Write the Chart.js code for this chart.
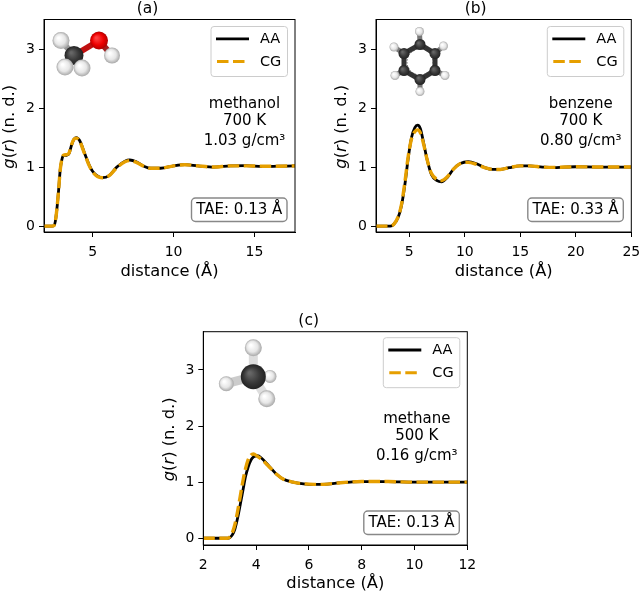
<!DOCTYPE html>
<html>
<head>
<meta charset="utf-8">
<script src="https://cdn.jsdelivr.net/npm/chart.js@4/dist/chart.umd.min.js"></script>
<style>
    html, body { margin: 0; padding: 0; background: #fff; width: 640px; height: 592px; overflow: hidden; position: relative; }
    canvas { position: absolute; filter: blur(0.4px); }
</style>
</head>
<body>
<canvas id="chartA" style="left:0;top:0"></canvas>
<canvas id="chartB" style="left:320px;top:0"></canvas>
<canvas id="chartC" style="left:150px;top:312px"></canvas>
<script>
// values
const methanolR = [2, 2.5, 2.62, 2.7, 2.8, 2.9, 3, 3.1, 3.2, 3.4, 3.55, 3.7, 3.85, 4, 4.2, 4.5, 4.8, 5, 5.3, 5.6, 6, 6.5, 7, 7.3, 7.7, 8.2, 8.6, 9.2, 10, 10.7, 11.5, 12.5, 13.5, 14.5, 15.5, 16.5, 17.5]
const methanolAA = [0, 0, 0.01, 0.08, 0.3, 0.6, 0.95, 1.12, 1.19, 1.2, 1.23, 1.37, 1.47, 1.5, 1.45, 1.24, 1.03, 0.93, 0.85, 0.82, 0.85, 1, 1.1, 1.12, 1.09, 1.01, 0.98, 0.98, 1.02, 1.04, 1.02, 1, 1.02, 1.025, 1.01, 1.015, 1.02]
const methanolCG = [0, 0, 0.01, 0.08, 0.3, 0.6, 0.95, 1.13, 1.2, 1.21, 1.24, 1.38, 1.47, 1.49, 1.44, 1.23, 1.02, 0.92, 0.84, 0.82, 0.85, 0.99, 1.09, 1.11, 1.08, 1.01, 0.98, 0.98, 1.02, 1.04, 1.02, 1, 1.02, 1.02, 1.015, 1.015, 1.02]

const benzeneR = [2, 3.3, 3.6, 4, 4.3, 4.6, 4.9, 5.2, 5.5, 5.75, 6, 6.3, 6.6, 7, 7.5, 7.9, 8.4, 9, 9.6, 10.3, 11, 11.8, 12.5, 13.2, 14, 15, 15.8, 17, 18, 19, 20, 22, 25]
const benzeneAA = [0, 0, 0.03, 0.15, 0.35, 0.7, 1.15, 1.5, 1.67, 1.71, 1.65, 1.4, 1.13, 0.87, 0.77, 0.75, 0.82, 0.97, 1.06, 1.09, 1.06, 0.99, 0.96, 0.96, 0.99, 1.02, 1.02, 1, 0.99, 1, 1.005, 1, 1]
const benzeneCG = [0, 0, 0.03, 0.16, 0.37, 0.74, 1.18, 1.48, 1.6, 1.63, 1.58, 1.38, 1.13, 0.89, 0.79, 0.77, 0.83, 0.97, 1.06, 1.08, 1.05, 0.99, 0.96, 0.96, 0.99, 1.02, 1.02, 1, 0.995, 1, 1.005, 1, 1]

const methaneR = [2, 2.9, 3, 3.1, 3.2, 3.3, 3.4, 3.5, 3.6, 3.7, 3.8, 3.9, 4.05, 4.2, 4.5, 4.8, 5, 5.4, 5.8, 6.2, 6.7, 7.2, 8, 9, 10, 12]
const methaneAA = [0, 0, 0.01, 0.06, 0.17, 0.36, 0.6, 0.85, 1.1, 1.27, 1.39, 1.45, 1.47, 1.43, 1.28, 1.13, 1.06, 1, 0.97, 0.96, 0.965, 0.99, 1.01, 1.01, 1, 1]
const methaneCG = [0, 0, 0.02, 0.1, 0.25, 0.48, 0.75, 1.02, 1.24, 1.4, 1.48, 1.5, 1.46, 1.41, 1.27, 1.13, 1.06, 1, 0.97, 0.96, 0.965, 0.99, 1.01, 1.01, 1, 1]

const seriesNames = ['AA', 'CG']
const xTitle = 'distance (Å)'
const fontName = '"DejaVu Sans"'

// molecule icons, [x, y, radius, kind] from the plot's top left corner
const methanolAtoms = [[17, 21, 8.5, 'H'], [30, 36, 9.5, 'C'], [68, 36, 8, 'H'], [55, 21, 9, 'O'], [21, 47.5, 8.5, 'H'], [38, 48.5, 8.5, 'H']]
const methanolBonds = [[0, 1, '#999'], [1, 3, '#c01010'], [3, 2, '#a02020'], [1, 4, '#888'], [1, 5, '#888']]
const benzeneAtoms = [[44, 25, 5.5, 'C'], [59, 34, 5.5, 'C'], [59, 51, 5.5, 'C'], [44, 60, 5.5, 'C'], [28, 51, 5.5, 'C'], [28, 34, 5.5, 'C'], [43.5, 12, 4.5, 'H'], [67.5, 26.5, 4.5, 'H'], [69, 56, 4.5, 'H'], [44, 72, 4.5, 'H'], [19, 56, 4.5, 'H'], [18, 27.5, 4.5, 'H']]
const benzeneBonds = [[0, 1, '#333'], [1, 2, '#333'], [2, 3, '#333'], [3, 4, '#333'], [4, 5, '#333'], [5, 0, '#333'], [0, 6, '#777'], [1, 7, '#777'], [2, 8, '#777'], [3, 9, '#777'], [4, 10, '#777'], [5, 11, '#777']]
const methaneAtoms = [[66.7, 44.7, 6.5, 'H'], [50, 16, 8.5, 'H'], [23, 52, 7.5, 'H'], [63.5, 67, 8.5, 'H'], [50, 45, 12.5, 'C']]
const methaneBonds = [[4, 0, '#999'], [4, 1, '#ddd'], [4, 2, '#ccc'], [4, 3, '#ddd']]

const atomColors = {
    H: ['#ffffff', '#e6e6e6', '#a8a8a8'],
    C: ['#666666', '#383838', '#222222'],
    O: ['#ff4040', '#ee0000', '#b00000']
}

function drawMolecule(ctx, area, atoms, bonds, bondWidth, ring) {
    ctx.save()
    ctx.translate(area.left, area.top)
    bonds.forEach(b => {
        ctx.beginPath()
        ctx.moveTo(atoms[b[0]][0], atoms[b[0]][1])
        ctx.lineTo(atoms[b[1]][0], atoms[b[1]][1])
        ctx.strokeStyle = b[2]
        ctx.lineWidth = bondWidth
        ctx.stroke()
    })
    atoms.forEach(a => {
        const g = ctx.createRadialGradient(a[0] - a[2] * 0.3, a[1] - a[2] * 0.3, a[2] * 0.1, a[0], a[1], a[2])
        const c = atomColors[a[3]]
        g.addColorStop(0, c[0])
        g.addColorStop(0.6, c[1])
        g.addColorStop(1, c[2])
        ctx.beginPath()
        ctx.arc(a[0], a[1], a[2], 0, Math.PI * 2)
        ctx.fillStyle = g
        ctx.fill()
    })
    if (ring) {
        ctx.beginPath()
        ctx.arc(ring[0], ring[1], ring[2], 0, Math.PI * 2)
        ctx.setLineDash([1.5, 1.5])
        ctx.strokeStyle = '#444'
        ctx.lineWidth = 0.8
        ctx.stroke()
    }
    ctx.restore()
}

function roundBox(ctx, x, y, w, h, r, stroke, lw) {
    ctx.beginPath()
    ctx.roundRect(x, y, w, h, r)
    ctx.fillStyle = 'rgba(255,255,255,0.8)'
    ctx.fill()
    ctx.strokeStyle = stroke
    ctx.lineWidth = lw
    ctx.stroke()
}

function makePanel(p) {
    const canvas = document.getElementById(p.id)
    canvas.width = p.width
    canvas.height = p.height
    canvas.style.width = p.width + 'px'
    canvas.style.height = p.height + 'px'

    // frame, legend, notes, molecule and the mixed italic y title
    const decor = {
        id: 'decor',
        afterDatasetsDraw(chart) {
            const ctx = chart.ctx
            const a = chart.chartArea
            ctx.save()
            ctx.strokeStyle = '#000'
            ctx.lineWidth = 1
            ctx.strokeRect(a.left, a.top, a.right - a.left, a.bottom - a.top)

            drawMolecule(ctx, a, p.atoms, p.bonds, p.bondWidth, p.ring)

            // legend
            const lx = a.right - 84
            const ly = a.top + p.legendTop
            roundBox(ctx, lx, ly, 76.5, 50, 3, '#cccccc', 1)
            ctx.beginPath()
            ctx.moveTo(lx + 5, ly + 12.3)
            ctx.lineTo(lx + 38, ly + 12.3)
            ctx.strokeStyle = chart.data.datasets[0].borderColor
            ctx.lineWidth = 2.8
            ctx.stroke()
            ctx.beginPath()
            ctx.moveTo(lx + 6, ly + 35)
            ctx.lineTo(lx + 34, ly + 35)
            ctx.strokeStyle = chart.data.datasets[1].borderColor
            ctx.lineWidth = 3
            ctx.setLineDash(chart.data.datasets[1].borderDash)
            ctx.stroke()
            ctx.setLineDash([])
            ctx.fillStyle = '#000'
            ctx.font = '14.5px ' + fontName
            ctx.textAlign = 'left'
            ctx.textBaseline = 'middle'
            ctx.fillText(chart.data.datasets[0].label, lx + 49, ly + 12.8)
            ctx.fillText(chart.data.datasets[1].label, lx + 49, ly + 35.3)

            // system notes
            ctx.font = '15px ' + fontName
            ctx.textAlign = 'center'
            p.notes.forEach((t, i) => {
                ctx.fillText(t, a.right - 50.5, a.top + p.noteY[i])
            })

            // TAE box
            roundBox(ctx, a.right - 103.5, a.bottom - 34, 95.5, 23.5, 4, '#888888', 1.4)
            ctx.fillStyle = '#000'
            ctx.fillText(p.tae, a.right - 55.7, a.bottom - 22)

            // y title
            ctx.translate(a.left - 34, (a.top + a.bottom) / 2 + 1)
            ctx.rotate(-Math.PI / 2)
            const runs = [['g', 'italic '], ['(', ''], ['r', 'italic '], [') (n. d.)', '']]
            let total = 0
            runs.forEach(r => {
                ctx.font = r[1] + '16.3px ' + fontName
                total += ctx.measureText(r[0]).width
            })
            let tx = -total / 2
            ctx.textAlign = 'left'
            runs.forEach(r => {
                ctx.font = r[1] + '16.3px ' + fontName
                ctx.fillText(r[0], tx, 0)
                tx += ctx.measureText(r[0]).width
            })
            ctx.restore()
        }
    }

    const toPoints = (xs, ys) => xs.map((x, i) => ({ x: x, y: ys[i] }))

    return new Chart(canvas, {
        type: 'line',
        data: {
            datasets: [{
                label: seriesNames[0],
                data: toPoints(p.r, p.aa),
                borderColor: '#000000',
                borderWidth: 2.8,
                order: 2
            }, {
                label: seriesNames[1],
                data: toPoints(p.r, p.cg),
                borderColor: '#e69f00',
                borderWidth: 3.4,
                borderDash: [11.5, 4.5],
                order: 1
            }]
        },
        options: {
            responsive: false,
            animation: false,
            elements: {
                point: { radius: 0 },
                line: { cubicInterpolationMode: 'monotone' }
            },
            layout: {
                padding: { left: 0, right: p.padRight, top: 0, bottom: 0 }
            },
            plugins: {
                legend: { display: false },
                tooltip: { enabled: false },
                title: {
                    display: true,
                    text: p.title,
                    color: '#000',
                    font: { family: fontName, size: 15.5, weight: 'normal', lineHeight: 1.2 },
                    padding: { top: 0, bottom: p.plotTop - 18.6 }
                }
            },
            scales: {
                x: {
                    type: 'linear',
                    min: p.xMin,
                    max: p.xMax,
                    afterFit(s) { s.height = p.height - p.plotBottom },
                    grid: { drawOnChartArea: false, color: '#000', tickLength: 5, tickColor: '#000' },
                    border: { color: '#000', width: 1 },
                    ticks: {
                        stepSize: p.xStep,
                        includeBounds: false,
                        maxRotation: 0,
                        autoSkip: false,
                        color: '#000',
                        padding: 7,
                        font: { family: fontName, size: 14 }
                    },
                    title: {
                        display: true,
                        text: xTitle,
                        color: '#000',
                        font: { family: fontName, size: 16.3 },
                        padding: { top: 4, bottom: 8 }
                    }
                },
                y: {
                    min: p.yMin,
                    max: p.yMax,
                    afterFit(s) { s.width = p.plotLeft },
                    grid: { drawOnChartArea: false, color: '#000', tickLength: 5, tickColor: '#000' },
                    border: { color: '#000', width: 1 },
                    ticks: {
                        stepSize: 1,
                        includeBounds: false,
                        color: '#000',
                        padding: 4,
                        font: { family: fontName, size: 14 }
                    }
                }
            }
        },
        plugins: [decor]
    })
}

makePanel({
    id: 'chartA', width: 320, height: 290, plotLeft: 44, plotTop: 19.5, plotBottom: 232, padRight: 25,
    title: '(a)', r: methanolR, aa: methanolAA, cg: methanolCG,
    xMin: 2, xMax: 17.5, xStep: 5, yMin: -0.1, yMax: 3.5,
    legendTop: 7, notes: ['methanol', '700 K', '1.03 g/cm³'], noteY: [85, 101.5, 121.5], tae: 'TAE: 0.13 Å',
    atoms: methanolAtoms, bonds: methanolBonds, bondWidth: 6
})

makePanel({
    id: 'chartB', width: 335, height: 290, plotLeft: 56, plotTop: 19.5, plotBottom: 232, padRight: 23.7,
    title: '(b)', r: benzeneR, aa: benzeneAA, cg: benzeneCG,
    xMin: 2, xMax: 25, xStep: 5, yMin: -0.1, yMax: 3.5,
    legendTop: 7, notes: ['benzene', '700 K', '0.80 g/cm³'], noteY: [85, 101.5, 121.5], tae: 'TAE: 0.33 Å',
    atoms: benzeneAtoms, bonds: benzeneBonds, bondWidth: 5, ring: [44, 42.5, 13]
})

makePanel({
    id: 'chartC', width: 340, height: 290, plotLeft: 53.3, plotTop: 19.7, plotBottom: 233, padRight: 22.7,
    title: '(c)', r: methaneR, aa: methaneAA, cg: methaneCG,
    xMin: 2, xMax: 12, xStep: 2, yMin: -0.12, yMax: 3.68,
    legendTop: 6, notes: ['methane', '500 K', '0.16 g/cm³'], noteY: [87.6, 104, 124], tae: 'TAE: 0.13 Å',
    atoms: methaneAtoms, bonds: methaneBonds, bondWidth: 9
})
</script>
</body>
</html>
